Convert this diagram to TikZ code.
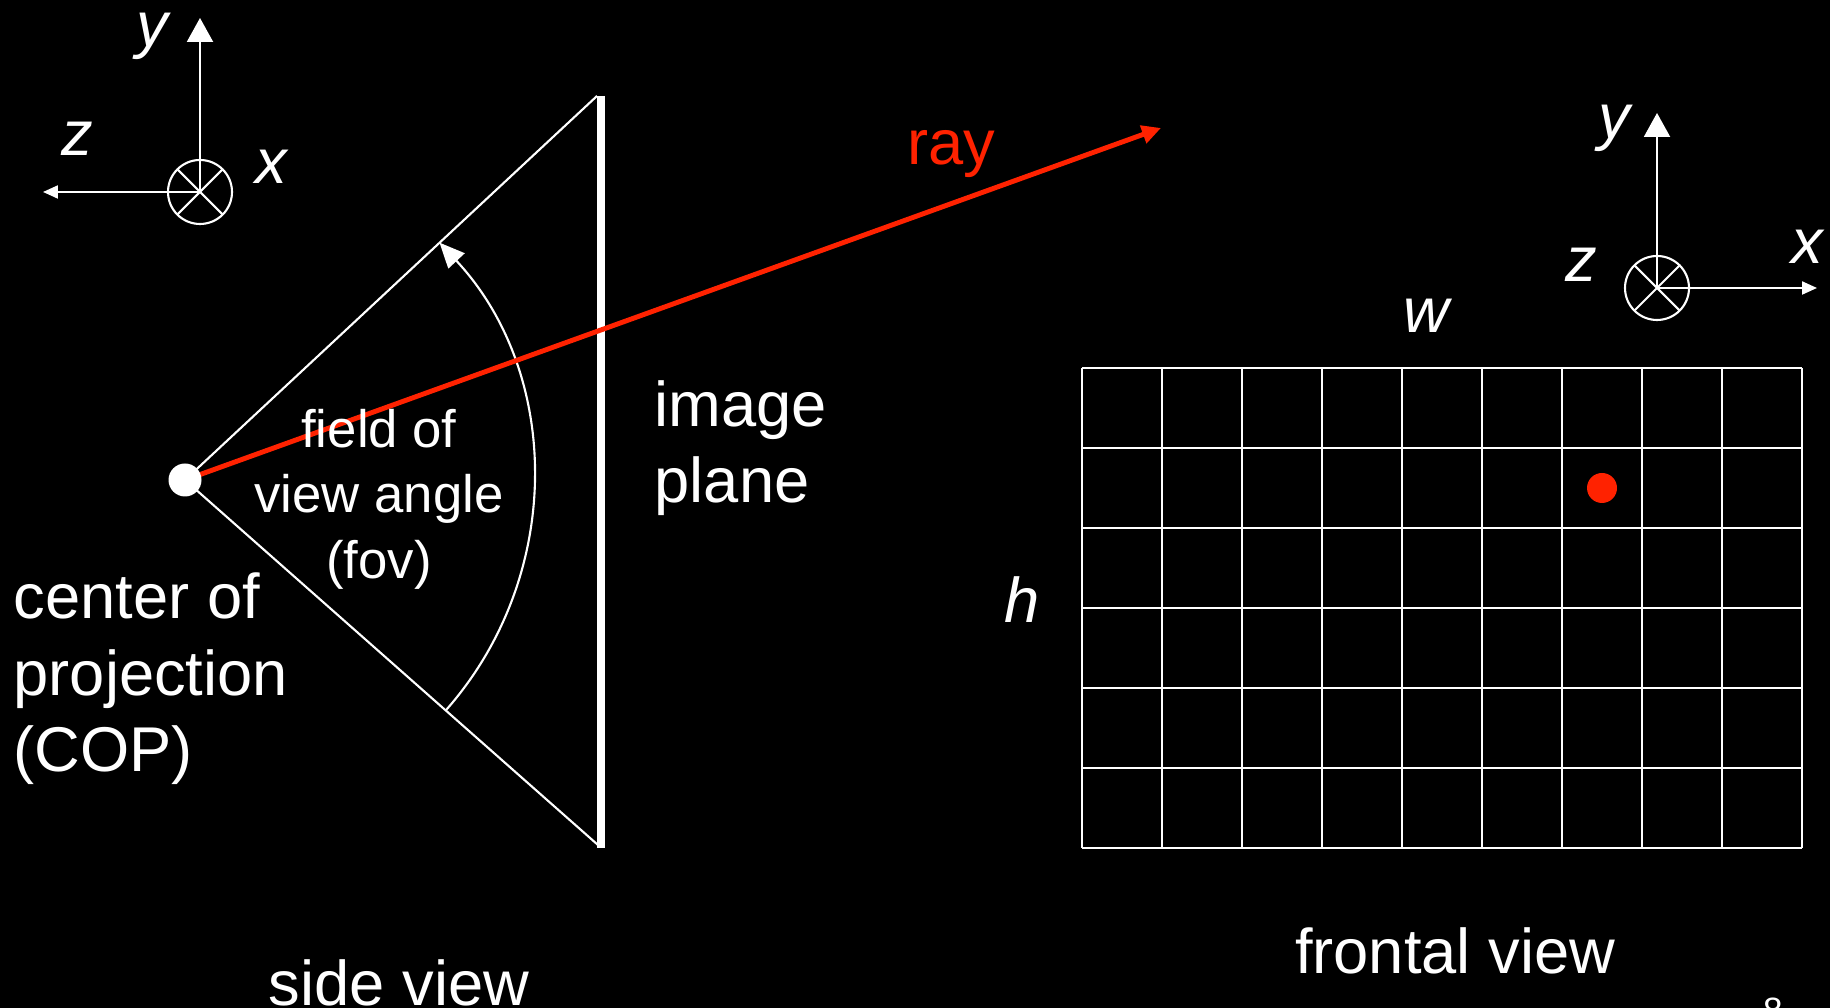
\documentclass[tikz,border=0pt]{standalone}
\usepackage{fontspec}
\setmainfont{Liberation Sans}
\usepackage{tikz}
\usetikzlibrary{arrows.meta, positioning, calc}
\definecolor{myred}{RGB}{255,34,0}
\definecolor{mybg}{RGB}{0,0,0}
\definecolor{mywhite}{RGB}{255,255,255}
\tikzset{
  lbl/.style={text=mywhite, font=\fontsize{18}{21.8}\selectfont,
    inner sep=0pt, align=left},
  smalllbl/.style={text=mywhite, font=\fontsize{15}{18.6}\selectfont,
    inner sep=0pt, align=center},
  axlbl/.style={text=mywhite, font=\fontsize{18}{22}\selectfont\itshape,
    inner sep=0pt},
  fovline/.style={draw=mywhite, line width=0.6pt},
  planeline/.style={draw=mywhite, line width=2.3pt},
  gridline/.style={draw=mywhite, line width=0.6pt},
  axisline/.style={draw=mywhite, line width=0.6pt},
  bigtip/.style={-{Triangle[length=0.24cm, width=0.26cm]}},
  smalltip/.style={-{Triangle[length=0.15cm, width=0.13cm]}},
  rayarrow/.style={draw=myred, line width=1.4pt,
    -{Triangle[length=0.19cm, width=0.18cm]}},
  arcarrow/.style={draw=mywhite, line width=0.6pt,
    -{Triangle[length=0.25cm, width=0.22cm]}},
  copdot/.style={circle, fill=mywhite, minimum size=0.33cm, inner sep=0pt},
  pixdot/.style={circle, fill=myred, minimum size=0.30cm, inner sep=0pt}
}

\begin{document}
\begin{tikzpicture}
  \fill[mybg] (0,0) rectangle (18.30,10.08);
  \useasboundingbox (0,0) rectangle (18.30,10.08);

  % side view: axes
  \begin{scope}[shift={(2.00,8.16)}]
    \coordinate (oa) at (0,0);
    \coordinate (oay) at (0,1.74);
    \coordinate (oaz) at (-1.57,0);
    \draw[axisline] (oa) circle (0.32);
    \draw[axisline] (45:0.32) -- (225:0.32);
    \draw[axisline] (135:0.32) -- (315:0.32);
    \draw[axisline, bigtip] (oa) -- (oay);
    \draw[axisline, smalltip] (oa) -- (oaz);
    \node[axlbl] (lya) at (-0.48,1.56) {y};
    \node[axlbl] (lza) at (-1.23,0.53) {z};
    \node[axlbl] (lxa) at (0.71,0.25) {x};
  \end{scope}

  % side view: frustum, image plane and ray
  \coordinate (copc) at (1.85,5.28);
  \coordinate (ptop) at (6.01,9.12);
  \coordinate (pbot) at (6.01,1.60);
  \coordinate (raytip) at (11.61,8.80);
  \draw[fovline] (copc) -- (5.97,9.12);
  \draw[fovline] (copc) -- (5.98,1.63);
  \draw[planeline] (ptop) -- (pbot);
  \draw[arcarrow] ($(copc)+(-41.5:3.48)$) arc[start angle=-41.5, end angle=43, radius=3.48];
  \draw[rayarrow] (copc) -- (raytip);
  \node[copdot] (cop) at (copc) {};

  \node[lbl, anchor=west] (plane) at (6.54,5.60) {image\\plane};
  \node[lbl, text=myred] (raylbl) at (9.51,8.54) {ray};
  \node[smalllbl] (fov) at (3.79,5.09) {field of\\view angle\\(fov)};
  \node[lbl, anchor=west] (coplbl) at (0.13,3.29) {center of\\projection\\(COP)};
  \node[lbl] (side) at (3.99,0.25) {side view};

  % frontal view: axes
  \begin{scope}[shift={(16.57,7.20)}]
    \coordinate (ob) at (0,0);
    \coordinate (oby) at (0,1.75);
    \coordinate (obx) at (1.60,0);
    \draw[axisline] (ob) circle (0.32);
    \draw[axisline] (45:0.32) -- (225:0.32);
    \draw[axisline] (135:0.32) -- (315:0.32);
    \draw[axisline, bigtip] (ob) -- (oby);
    \draw[axisline, smalltip] (ob) -- (obx);
    \node[axlbl] (lyb) at (-0.43,1.60) {y};
    \node[axlbl] (lzb) at (-0.76,0.23) {z};
    \node[axlbl] (lxb) at (1.50,0.41) {x};
  \end{scope}

  % frontal view: pixel grid
  \begin{scope}[shift={(10.82,1.60)}]
    \foreach \i in {0,...,9} \draw[gridline] (\i*0.8,0) -- (\i*0.8,4.8);
    \foreach \j in {0,...,6} \draw[gridline] (0,\j*0.8) -- (7.2,\j*0.8);
    \node[pixdot] (pix) at (6.5*0.8,4.5*0.8) {};
  \end{scope}
  \node[axlbl] (wlbl) at (14.26,6.92) {w};
  \node[axlbl] (hlbl) at (10.22,4.08) {h};
  \node[lbl] (front) at (14.55,0.57) {frontal view};

  \node[text=mywhite, font=\fontsize{10}{12}\selectfont, inner sep=0pt, anchor=north] (pagenum) at (17.73,0.11) {8};
\end{tikzpicture}
\end{document}
